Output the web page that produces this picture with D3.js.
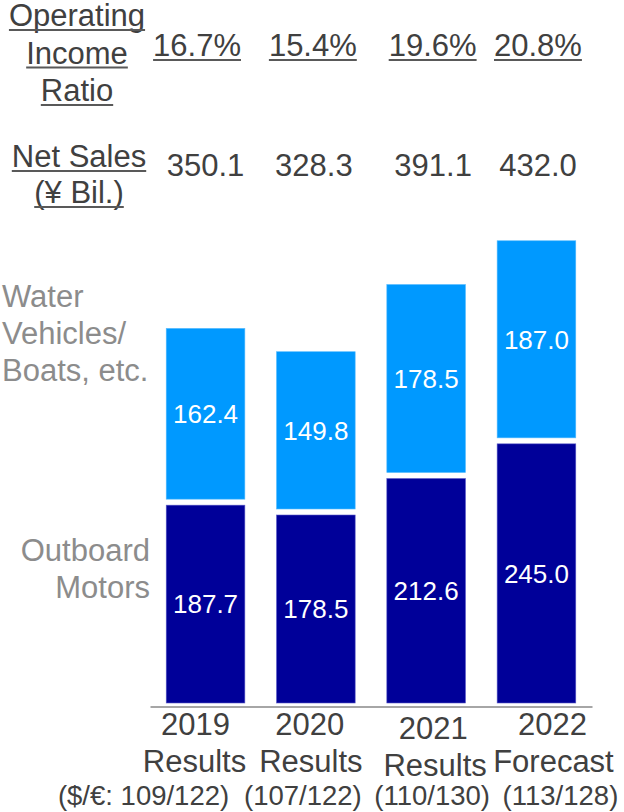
<!DOCTYPE html>
<html>
<head>
<meta charset="utf-8">
<script src="https://cdn.jsdelivr.net/npm/d3@7"></script>
<style>
  html, body { margin: 0; padding: 0; background: #fff; }
  svg { display: block; font-family: "Liberation Sans", Arial, sans-serif; }
</style>
</head>
<body>
<svg id="chart" width="624" height="812"></svg>
<script>
// ---- data ----
const years = ["2019", "2020", "2021", "2022"];
const kinds = ["Results", "Results", "Results", "Forecast"];
const fxRates = ["($/€: 109/122)", "(107/122)", "(110/130)", "(113/128)"];
const outboardMotors = [187.7, 178.5, 212.6, 245.0];
const waterVehicles = [162.4, 149.8, 178.5, 187.0];
const netSales = ["350.1", "328.3", "391.1", "432.0"];
const opIncomeRatio = ["16.7%", "15.4%", "19.6%", "20.8%"];

// ---- layout ----
const W = 624, H = 812;
const baseY = 703;           // bottom of the bars
const axisY = 706.5;
const gap = 3;               // half of the white gap between stacked segments
const textColor = "#404040";
const legendColor = "#8c8c8c";
const darkBlue = "#000099";
const lightBlue = "#0099ff";
const fontMain = 31;

// horizontal nudges of text rows relative to each bar centre
const ratioShift = [-8.5, -3, 6.5, 1.5];
const salesShift = [0, -2, 7, 1.5];
const yearShift = [-10, -6, 7, 16];
const kindShift = [-11, -5, 9, 17];
const fxShift = [-62, -13, 6, 24];
const yearBase = [735, 735, 739, 735];
const kindBase = [772, 772, 776, 772];

const svg = d3.select("#chart");

const x = d3.scaleBand()
  .domain(years)
  .range([150, 592])
  .paddingInner(0.287)
  .paddingOuter(0.147);

const y = d3.scaleLinear()
  .domain([0, 450])
  .range([baseY, baseY - 450 * 1.07]);

const rows = years.map((yr, i) => ({
  year: yr,
  dark: outboardMotors[i],
  light: waterVehicles[i],
  i
}));

// ---- bars ----
const g = svg.append("g");

// outboard motors (bottom segment)
g.selectAll("rect.dark")
  .data(rows)
  .join("rect")
  .attr("class", "dark")
  .attr("x", d => x(d.year))
  .attr("width", x.bandwidth())
  .attr("y", d => y(d.dark) + gap)
  .attr("height", d => y(0) - y(d.dark) - gap)
  .attr("fill", darkBlue)
  .attr("stroke", "#5a5ac8")
  .attr("stroke-width", 0.6);

// water vehicles / boats (top segment)
g.selectAll("rect.light")
  .data(rows)
  .join("rect")
  .attr("class", "light")
  .attr("x", d => x(d.year))
  .attr("width", x.bandwidth())
  .attr("y", d => y(d.dark + d.light))
  .attr("height", d => y(d.dark) - y(d.dark + d.light) - gap)
  .attr("fill", lightBlue)
  .attr("stroke", "#55bbff")
  .attr("stroke-width", 0.6);

// value labels inside segments
const labelSize = 26;
g.selectAll("text.dlabel")
  .data(rows)
  .join("text")
  .attr("x", d => x(d.year) + x.bandwidth() / 2)
  .attr("y", d => (y(0) + y(d.dark) + gap) / 2 + labelSize * 0.36)
  .attr("text-anchor", "middle")
  .attr("fill", "#fff")
  .attr("font-size", labelSize)
  .text(d => d.dark.toFixed(1));

g.selectAll("text.llabel")
  .data(rows)
  .join("text")
  .attr("x", d => x(d.year) + x.bandwidth() / 2)
  .attr("y", d => (y(d.dark + d.light) + y(d.dark) - gap) / 2 + labelSize * 0.36)
  .attr("text-anchor", "middle")
  .attr("fill", "#fff")
  .attr("font-size", labelSize)
  .text(d => d.light.toFixed(1));

// ---- x axis ----
const xAxis = d3.axisBottom(x).tickSize(0).tickFormat("");
const axisG = svg.append("g")
  .attr("transform", `translate(0,${axisY})`)
  .call(xAxis);
axisG.select(".domain").attr("stroke", "#a6a6a6").attr("stroke-width", 2);

const cx = d => x(d) + x.bandwidth() / 2;

svg.append("g").selectAll("text")
  .data(years)
  .join("text")
  .attr("x", (d, i) => cx(d) + yearShift[i])
  .attr("y", (d, i) => yearBase[i])
  .attr("text-anchor", "middle")
  .attr("fill", textColor)
  .attr("font-size", fontMain)
  .text(d => d);

svg.append("g").selectAll("text")
  .data(years)
  .join("text")
  .attr("x", (d, i) => cx(d) + kindShift[i])
  .attr("y", (d, i) => kindBase[i])
  .attr("text-anchor", "middle")
  .attr("fill", textColor)
  .attr("font-size", fontMain)
  .text((d, i) => kinds[i]);

svg.append("g").selectAll("text")
  .data(years)
  .join("text")
  .attr("x", (d, i) => cx(d) + fxShift[i])
  .attr("y", 805)
  .attr("text-anchor", "middle")
  .attr("fill", textColor)
  .attr("font-size", 27.5)
  .text((d, i) => fxRates[i]);

// ---- underlined text helper ----
function underlined(parent, txt, px, py, anchor, color, size) {
  const t = parent.append("text")
    .attr("x", px).attr("y", py)
    .attr("text-anchor", anchor)
    .attr("fill", color)
    .attr("font-size", size)
    .text(txt);
  const bb = t.node().getBBox();
  parent.append("line")
    .attr("x1", bb.x).attr("x2", bb.x + bb.width)
    .attr("y1", py + 4).attr("y2", py + 4)
    .attr("stroke", "#595959")
    .attr("stroke-width", 2);
  return t;
}

// ---- header rows ----
const head = svg.append("g");
["Operating", "Income", "Ratio"].forEach((s, k) =>
  underlined(head, s, 77, 26 + k * 37.5, "middle", textColor, fontMain));
["Net Sales", "(¥ Bil.)"].forEach((s, k) =>
  underlined(head, s, 79, 167 + k * 36, "middle", textColor, fontMain));

years.forEach((yr, i) => {
  underlined(head, opIncomeRatio[i], cx(yr) + ratioShift[i], 56, "middle", textColor, fontMain);
  head.append("text")
    .attr("x", cx(yr) + salesShift[i])
    .attr("y", 176)
    .attr("text-anchor", "middle")
    .attr("fill", textColor)
    .attr("font-size", fontMain)
    .text(netSales[i]);
});

// ---- series names ----
const legend = svg.append("g").attr("fill", legendColor).attr("font-size", fontMain);
["Water", "Vehicles/", "Boats, etc."].forEach((s, k) =>
  legend.append("text").attr("x", 2).attr("y", 307 + k * 37).text(s));
["Outboard", "Motors"].forEach((s, k) =>
  legend.append("text").attr("x", 150).attr("y", 561 + k * 37)
    .attr("text-anchor", "end").text(s));
</script>
</body>
</html>
